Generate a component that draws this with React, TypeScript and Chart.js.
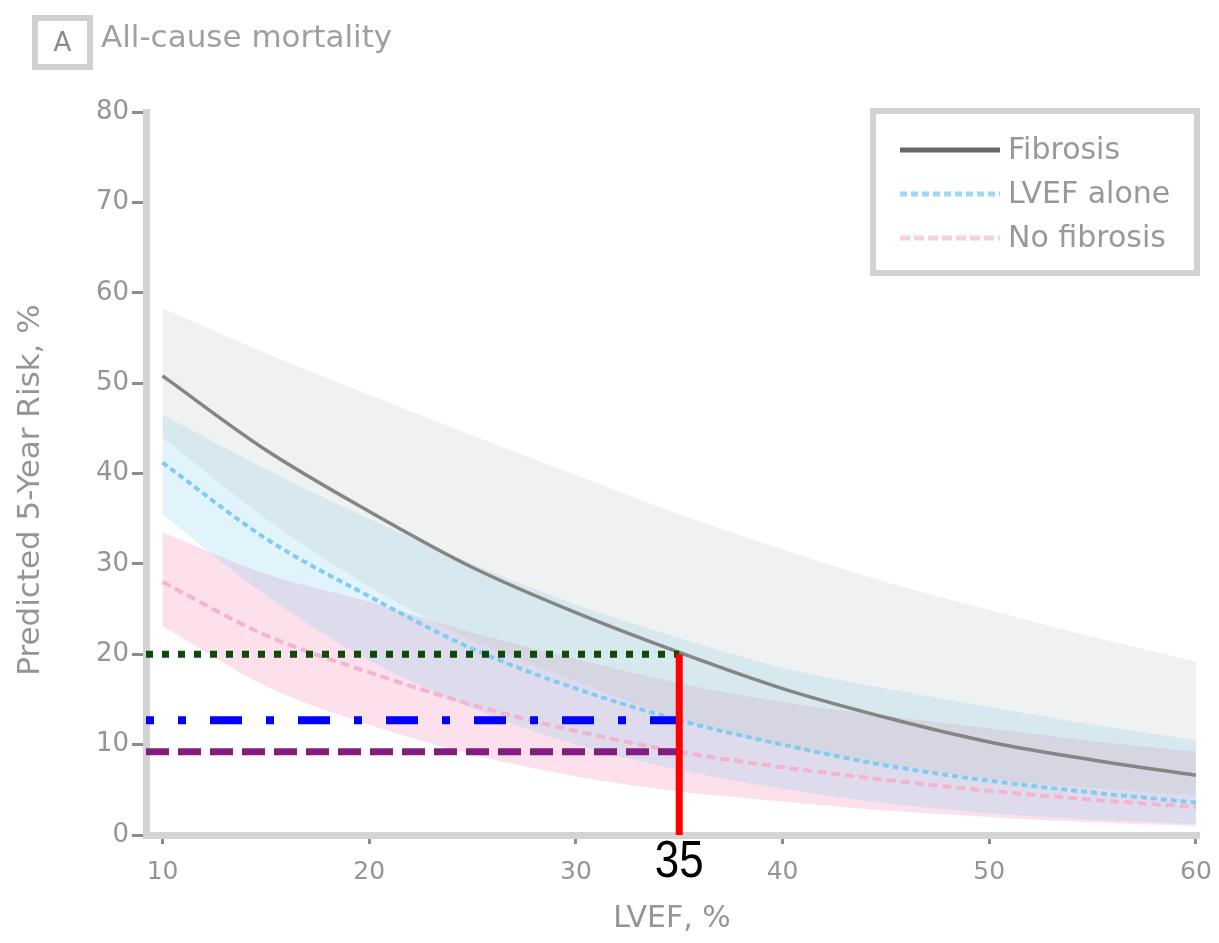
import React, { useEffect, useRef } from "react";
import { Chart, registerables } from "chart.js";

Chart.register(...registerables);

// LVEF, % (x values)
const lvefValues = [10, 15, 20, 25, 30, 35, 40, 45, 50, 55, 60];

// Fibrosis
const fibrosisRisk = [50.8, 42.6, 35.8, 29.6, 24.6, 20.2, 16.2, 13.0, 10.3, 8.3, 6.6];
const fibrosisLower = [44.0, 35.0, 27.5, 21.5, 17.0, 12.8, 9.8, 7.8, 6.2, 5.2, 4.4];
const fibrosisUpper = [58.3, 53.3, 48.7, 44.2, 39.8, 35.5, 31.6, 28.0, 24.9, 21.9, 19.2];

// LVEF alone
const lvefAloneRisk = [41.2, 32.8, 26.4, 20.6, 16.2, 12.7, 10.0, 7.7, 6.0, 4.7, 3.6];
const lvefAloneLower = [35.5, 26.5, 19.3, 14.0, 10.0, 7.2, 5.1, 3.5, 2.4, 1.7, 1.2];
const lvefAloneUpper = [46.5, 40.5, 35.0, 30.0, 25.5, 21.8, 18.5, 16.2, 14.2, 12.2, 10.5];

// No fibrosis
const noFibrosisRisk = [28.0, 22.1, 18.0, 14.4, 11.5, 9.2, 7.5, 6.1, 4.9, 3.9, 3.1];
const noFibrosisLower = [23.1, 16.5, 12.2, 8.9, 6.5, 4.8, 3.7, 2.7, 2.0, 1.4, 1.0];
const noFibrosisUpper = [33.5, 28.9, 25.8, 22.4, 19.5, 16.8, 14.7, 13.2, 11.8, 10.4, 9.2];

// Reference annotation values
const cutoffLvef = 35;
const refFibrosis = 20;
const refLvefAlone = 12.7;
const refNoFibrosis = 9.2;

const xTicks = [10, 20, 30, 40, 50, 60];
const yTicks = [0, 10, 20, 30, 40, 50, 60, 70, 80];
const xMin = 9.2;
const xMax = 60.1;
const yMin = 0;
const yMax = 80;

const legendItems = ["Fibrosis", "LVEF alone", "No fibrosis"];
const titleLetter = "A";
const titleText = "All-cause mortality";
const xTitle = "LVEF, %";
const yTitle = "Predicted 5-Year Risk, %";

const FONT = "'DejaVu Sans', 'Liberation Sans', Arial, sans-serif";
const NUM_FONT = "'Liberation Sans', Arial, sans-serif";
const TEXT_GRAY = "#959595";

const pts = (ys: number[]) => lvefValues.map((x, i) => ({ x, y: ys[i] }));

const decorPlugin = {
  id: "decor",
  afterDraw(chart: any) {
    const ctx = chart.ctx;
    const xs = chart.scales.x;
    ctx.save();
    // Title box
    ctx.strokeStyle = "#d0d0d0";
    ctx.lineWidth = 6;
    ctx.strokeRect(27, 10, 55, 49);
    ctx.fillStyle = "#8a8a8a";
    ctx.font = `26px ${FONT}`;
    ctx.textAlign = "center";
    ctx.textBaseline = "middle";
    ctx.fillText(titleLetter, 54.5, 36);
    ctx.textAlign = "left";
    ctx.font = `31px ${FONT}`;
    ctx.fillStyle = "#a0a0a0";
    ctx.fillText(titleText, 93, 31);

    // Y axis title
    ctx.save();
    ctx.translate(23, 482);
    ctx.rotate(-Math.PI / 2);
    ctx.fillStyle = TEXT_GRAY;
    ctx.font = `31px ${FONT}`;
    ctx.textAlign = "center";
    ctx.textBaseline = "middle";
    ctx.fillText(yTitle, 0, 0);
    ctx.restore();

    // Legend box
    ctx.strokeStyle = "#d2d2d2";
    ctx.lineWidth = 6;
    ctx.strokeRect(865, 103, 324, 162);
    const rows = [142, 186, 230];
    const styles = [
      { color: "#666666", dash: [] as number[], width: 5 },
      { color: "#9bdaf6", dash: [7, 4], width: 5 },
      { color: "#f8cfe3", dash: [10, 4], width: 5 },
    ];
    rows.forEach((y, i) => {
      const s = styles[i];
      ctx.beginPath();
      ctx.setLineDash(s.dash);
      ctx.strokeStyle = s.color;
      ctx.lineWidth = s.width;
      ctx.moveTo(892, y);
      ctx.lineTo(992, y);
      ctx.stroke();
      ctx.setLineDash([]);
      ctx.fillStyle = "#999999";
      ctx.font = `30px ${FONT}`;
      ctx.textAlign = "left";
      ctx.textBaseline = "middle";
      ctx.fillText(legendItems[i], 1000, y + 1);
    });

    // Cutoff label
    const cx = xs.getPixelForValue(cutoffLvef);
    ctx.translate(cx, 855);
    ctx.scale(0.86, 1);
    ctx.fillStyle = "#000000";
    ctx.font = `51px ${NUM_FONT}`;
    ctx.textAlign = "center";
    ctx.textBaseline = "middle";
    ctx.fillText(String(cutoffLvef), 0, 0);
    ctx.restore();
  },
};

export default function App() {
  const ref = useRef<HTMLCanvasElement | null>(null);

  useEffect(() => {
    if (!ref.current) return;
    const base = { pointRadius: 0, pointHoverRadius: 0, cubicInterpolationMode: "monotone" as const };
    const chart = new Chart(ref.current, {
      type: "line",
      data: {
        datasets: [
          {
            ...base,
            label: "cutoff",
            data: [
              { x: cutoffLvef, y: 0 },
              { x: cutoffLvef, y: refFibrosis },
            ],
            borderColor: "#ff0000",
            borderWidth: 7,
            fill: false,
          },
          {
            ...base,
            label: "refFibrosis",
            data: [
              { x: xMin, y: refFibrosis },
              { x: cutoffLvef, y: refFibrosis },
            ],
            borderColor: "#0b4a0b",
            borderWidth: 7,
            borderDash: [7, 9],
            fill: false,
          },
          {
            ...base,
            label: "refLvef",
            data: [
              { x: xMin, y: refLvefAlone },
              { x: cutoffLvef, y: refLvefAlone },
            ],
            borderColor: "#0000ff",
            borderWidth: 8,
            borderDash: [32, 24, 8, 24],
            borderDashOffset: 24,
            fill: false,
          },
          {
            ...base,
            label: "refNoFib",
            data: [
              { x: xMin, y: refNoFibrosis },
              { x: cutoffLvef, y: refNoFibrosis },
            ],
            borderColor: "#841c80",
            borderWidth: 7,
            borderDash: [23, 9],
            fill: false,
          },
          {
            ...base,
            label: "Fibrosis",
            data: pts(fibrosisRisk),
            borderColor: "#858585",
            borderWidth: 3.5,
            fill: false,
          },
          {
            ...base,
            label: "LVEF alone",
            data: pts(lvefAloneRisk),
            borderColor: "#80ccf2",
            borderWidth: 4,
            borderDash: [6, 4],
            fill: false,
          },
          {
            ...base,
            label: "No fibrosis",
            data: pts(noFibrosisRisk),
            borderColor: "#f4b3d0",
            borderWidth: 4,
            borderDash: [9, 5],
            fill: false,
          },
          {
            ...base,
            label: "fibLow",
            data: pts(fibrosisLower),
            borderWidth: 0,
            fill: false,
          },
          {
            ...base,
            label: "fibUp",
            data: pts(fibrosisUpper),
            borderWidth: 0,
            backgroundColor: "rgba(176,190,184,0.2)",
            fill: "-1",
          },
          {
            ...base,
            label: "lvefLow",
            data: pts(lvefAloneLower),
            borderWidth: 0,
            fill: false,
          },
          {
            ...base,
            label: "lvefUp",
            data: pts(lvefAloneUpper),
            borderWidth: 0,
            backgroundColor: "rgba(135,206,240,0.25)",
            fill: "-1",
          },
          {
            ...base,
            label: "nfLow",
            data: pts(noFibrosisLower),
            borderWidth: 0,
            fill: false,
          },
          {
            ...base,
            label: "nfUp",
            data: pts(noFibrosisUpper),
            borderWidth: 0,
            backgroundColor: "rgba(240,120,170,0.22)",
            fill: "-1",
          },
        ],
      },
      options: {
        animation: false,
        responsive: true,
        maintainAspectRatio: false,
        events: [],
        layout: { padding: { top: 104, right: 13, left: 0, bottom: 0 } },
        plugins: {
          legend: { display: false },
          tooltip: { enabled: false },
        },
        scales: {
          x: {
            type: "linear",
            min: xMin,
            max: xMax,
            afterFit(scale: any) {
              scale.height = 100;
              scale.paddingLeft = 0;
              scale.paddingRight = 0;
            },
            afterBuildTicks(scale: any) {
              scale.ticks = xTicks.map((v) => ({ value: v }));
            },
            border: { color: "#d3d3d3", width: 7 },
            grid: {
              drawOnChartArea: false,
              drawTicks: true,
              tickLength: 9,
              color: "#8c8c8c",
              lineWidth: 3,
            },
            ticks: {
              color: TEXT_GRAY,
              font: { family: FONT, size: 25 },
              padding: 13,
              maxRotation: 0,
            },
            title: {
              display: true,
              text: xTitle,
              color: TEXT_GRAY,
              font: { family: FONT, size: 30 },
              padding: { top: 0, bottom: -2 },
            },
          },
          y: {
            type: "linear",
            min: yMin,
            max: yMax,
            afterFit(scale: any) {
              scale.width = 138;
              scale.paddingTop = 0;
              scale.paddingBottom = 0;
            },
            afterBuildTicks(scale: any) {
              scale.ticks = yTicks.map((v) => ({ value: v }));
            },
            border: { color: "#d3d3d3", width: 7 },
            grid: {
              drawOnChartArea: false,
              drawTicks: true,
              tickLength: 14,
              color: "#8c8c8c",
              lineWidth: 3,
            },
            ticks: {
              color: TEXT_GRAY,
              font: { family: FONT, size: 26 },
              padding: 3,
            },
            title: { display: false },
          },
        },
      },
      plugins: [decorPlugin],
    });
    return () => chart.destroy();
  }, []);

  return (
    <div style={{ position: "relative", width: 1203, height: 927 }}>
      <canvas ref={ref} />
    </div>
  );
}
